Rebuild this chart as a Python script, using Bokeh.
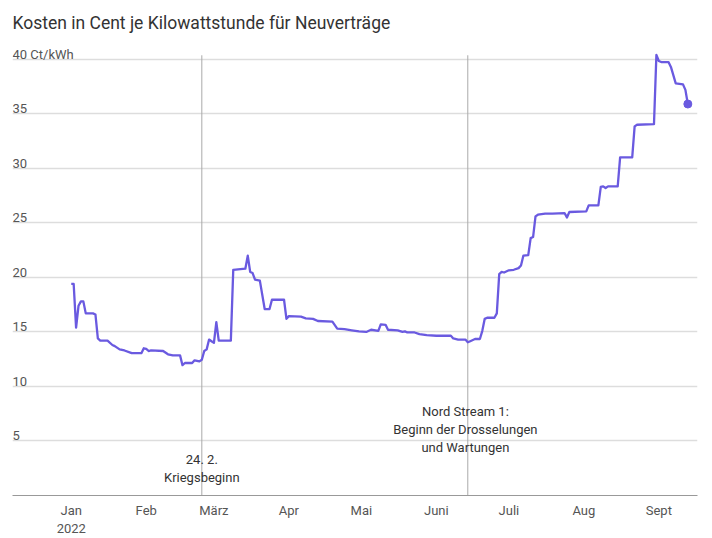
from bokeh.plotting import figure
from bokeh.models import Range1d, FixedTicker, ColumnDataSource
from bokeh.core.properties import value
from bokeh.embed import file_html
from bokeh.resources import INLINE

# ---- data (days since 2022-01-01, cents per kWh) ----
day_offsets = [0, 1, 2, 3, 4, 5, 6, 9, 10, 11, 12, 15, 17, 18, 20, 22, 25, 29, 30, 31, 32, 33, 38, 40, 42, 45, 46, 47,
               50, 51, 53, 54, 55, 56, 57, 58, 59, 60, 61, 66, 67, 72, 73, 74, 75, 76, 78, 80, 82, 83, 88, 89, 90, 95,
               97, 100, 102, 108, 110, 113, 116, 119, 122, 124, 127, 128, 130, 131, 135, 137, 138, 139, 142, 144, 147,
               151, 157, 158, 160, 163, 164, 165, 167, 169, 170, 171, 172, 175, 176, 177, 178, 179, 181, 183, 185, 186,
               187, 189, 190, 191, 192, 193, 196, 199, 204, 205, 206, 213, 214, 218, 219, 220, 221, 222, 226, 227, 232,
               233, 234, 241, 242, 243, 244, 247, 248, 250, 253, 254, 255]
prices = [19.4, 19.4, 15.4, 17.4, 17.8, 17.8, 16.7, 16.7, 16.6, 14.4, 14.2, 14.2, 13.8, 13.7, 13.4, 13.3, 13.05, 13.05,
          13.5, 13.45, 13.25, 13.3, 13.25, 12.95, 12.85, 12.85, 11.95, 12.15, 12.15, 12.4, 12.3, 12.45, 13.25, 13.4,
          14.3, 14.15, 14.0, 15.9, 14.2, 14.2, 20.7, 20.8, 22.0, 20.5, 20.4, 19.8, 19.7, 17.1, 17.1, 17.95, 17.95, 16.2,
          16.45, 16.4, 16.25, 16.2, 16.0, 15.95, 15.3, 15.25, 15.15, 15.05, 15.0, 15.2, 15.1, 15.7, 15.65, 15.2, 15.15,
          15.0, 15.05, 14.95, 14.95, 14.8, 14.7, 14.65, 14.65, 14.4, 14.3, 14.3, 14.05, 14.15, 14.35, 14.35, 15.1, 16.2,
          16.3, 16.3, 16.7, 20.3, 20.5, 20.45, 20.65, 20.7, 20.85, 21.1, 22.0, 22.05, 23.6, 23.7, 25.6, 25.75, 25.85,
          25.85, 25.9, 25.5, 26.0, 26.05, 26.6, 26.6, 28.3, 28.35, 28.2, 28.35, 28.35, 31.0, 31.0, 33.85, 34.0, 34.05,
          40.4, 39.85, 39.75, 39.75, 39.3, 37.8, 37.7, 37.2, 35.9]

month_ticks = [0, 31, 59, 90, 120, 151, 181, 212, 243]
month_labels = ["Jan\n2022", "Feb", "März", "Apr", "Mai", "Juni", "Juli", "Aug", "Sept"]

y_ticks = [5, 10, 15, 20, 25, 30, 35, 40]
y_labels = ["5", "10", "15", "20", "25", "30", "35", "40 Ct/kWh"]

event_days = [54, 164]
event_texts = ["24. 2.\nKriegsbeginn", "Nord Stream 1:\nBeginn der Drosselungen\nund Wartungen"]
event_text_y = [3.95, 8.35]
event_text_x = [54, 163]

FONT = "Roboto"
LINE_COLOR = "#6a5ae0"
TEXT_COLOR = "#555555"

x_start, x_end = -24.3, 259.0
y_start, y_end = 0, 42

p = figure(width=712, height=538, output_backend="svg", toolbar_location=None,
           x_range=Range1d(x_start, x_end), y_range=Range1d(y_start, y_end),
           min_border_left=12, min_border_right=15, min_border_top=37, min_border_bottom=43)
p.outline_line_color = None
p.background_fill_color = "white"
p.border_fill_color = "white"

p.title.text = "Kosten in Cent je Kilowattstunde für Neuverträge"
p.title.text_font = FONT
p.title.text_font_size = "17.5px"
p.title.text_font_style = "normal"
p.title.text_color = "#333333"
p.title.align = "left"
p.title.standoff = 9

# axes
p.yaxis.visible = False
p.xaxis.ticker = FixedTicker(ticks=month_ticks)
p.xaxis.major_label_overrides = {t: l for t, l in zip(month_ticks, month_labels)}
p.xaxis.major_tick_line_color = None
p.xaxis.major_tick_out = 0
p.xaxis.major_tick_in = 0
p.xaxis.minor_tick_line_color = None
p.xaxis.minor_tick_out = 0
p.xaxis.axis_line_color = "#999999"
p.xaxis.axis_line_width = 1
p.xaxis.major_label_text_font = FONT
p.xaxis.major_label_text_font_size = "13px"
p.xaxis.major_label_text_color = TEXT_COLOR
p.xaxis.major_label_standoff = 7

p.xgrid.visible = False
p.ygrid.ticker = FixedTicker(ticks=y_ticks)
p.ygrid.grid_line_color = "#dddddd"
p.ygrid.grid_line_width = 1.5

# y labels inside plot
p.text(x=[x_start] * len(y_ticks), y=y_ticks, text=y_labels, text_font=value(FONT),
       text_font_size="13px", text_color=TEXT_COLOR, text_align="left",
       text_baseline="alphabetic", y_offset=-5)

# event lines
p.segment(x0=event_days, y0=[0] * len(event_days), x1=event_days, y1=[40.37] * len(event_days),
          line_color="#aaaaaa", line_width=1)
p.text(x=event_text_x, y=event_text_y, text=event_texts, text_font=value(FONT),
       text_font_size="13px", text_color="#333333", text_align="center", text_baseline="top",
       text_line_height=1.2)

src = ColumnDataSource(dict(x=day_offsets, y=prices))
p.line("x", "y", source=src, line_color=LINE_COLOR, line_width=2.3, line_join="round")
p.scatter(x=[day_offsets[-1]], y=[prices[-1]], size=8, color=LINE_COLOR)

open("out.html", "w").write(file_html(p, INLINE))
